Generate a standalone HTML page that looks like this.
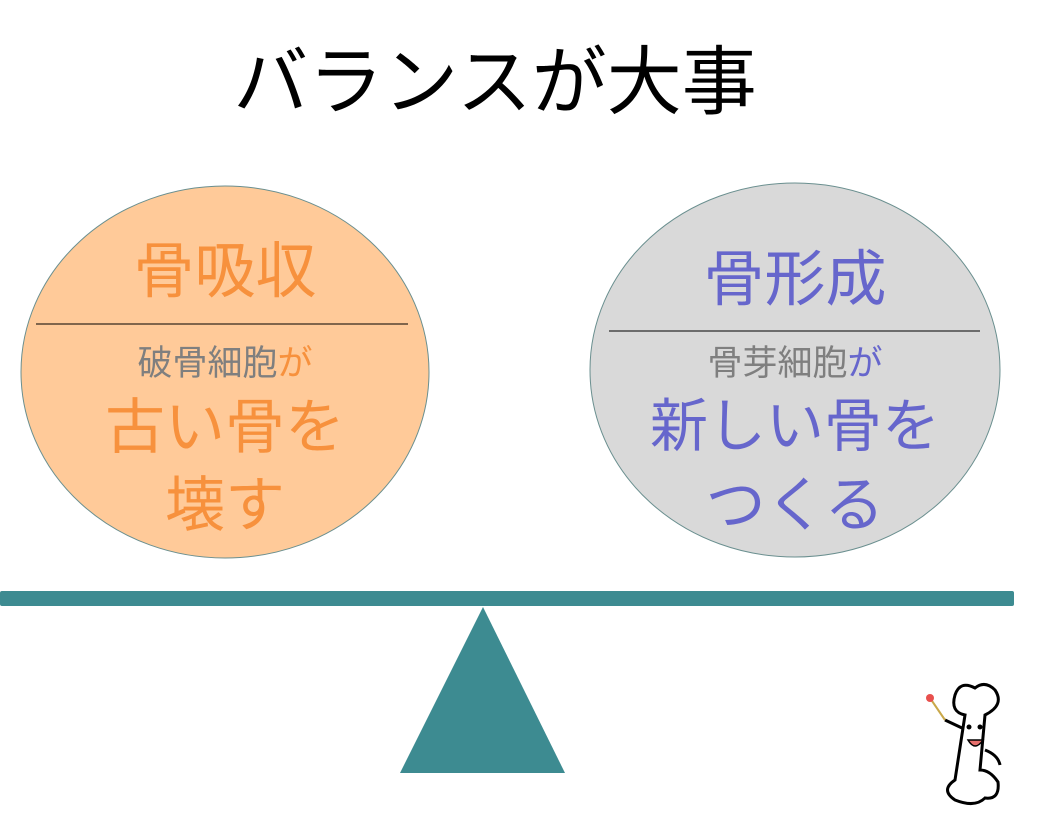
<!DOCTYPE html>
<html><head><meta charset="utf-8"><style>
body{margin:0;width:1057px;height:820px;background:#fff;overflow:hidden;position:relative;font-family:"Liberation Sans","Noto Sans CJK JP",sans-serif}
.t{position:absolute;white-space:nowrap;text-align:center;line-height:1}
</style></head><body>
<svg width="1057" height="820" style="position:absolute;left:0;top:0">
<ellipse cx="225" cy="372" rx="204" ry="186" fill="#FFCA99" stroke="#6a8f8f" stroke-width="1"/>
<ellipse cx="795" cy="370" rx="205" ry="187" fill="#D9D9D9" stroke="#6a8f8f" stroke-width="1"/>
<line x1="36" y1="324" x2="408" y2="324" stroke="#000" stroke-width="1"/>
<line x1="609" y1="331" x2="980" y2="331" stroke="#000" stroke-width="1"/>
<rect x="0" y="591" width="1014" height="15" rx="2" fill="#3D8B91"/>
<polygon points="483,607 400,773 565,773" fill="#3D8B91"/>
<g fill="#fff" stroke="#000" stroke-width="3">
<path d="M965 715 L955 780 Q940 790 955 800 Q975 808 985 798 Q1000 800 998 782 Q990 770 980 770 L985 715 Q1005 705 995 690 Q985 680 975 688 Q960 680 955 695 Q950 712 965 715Z"/>
<path d="M962 728 L945 720" />
<path d="M985 750 Q998 755 1000 765"/>
</g>
<line x1="930" y1="698" x2="945" y2="720" stroke="#c9a84a" stroke-width="2"/>
<circle cx="930" cy="698" r="4" fill="#e8504d"/>
<circle cx="969" cy="727" r="2.5"/><circle cx="980" cy="727" r="2.5"/>
<path d="M968 740 Q975 752 983 740Z" fill="#e8706d" stroke="#000" stroke-width="1.5"/>
</svg>
<div class="t" style="left:0;width:990px;top:45px;font-size:75px;color:#000">バランスが大事</div>
<div class="t" style="left:25px;width:400px;top:241px;font-size:61px;color:#F7913D">骨吸収</div>
<div class="t" style="left:25px;width:400px;top:346px;font-size:35px;color:#7f7f7f">破骨細胞<span style="color:#F7913D">が</span></div>
<div class="t" style="left:25px;width:400px;top:398px;font-size:60px;color:#F7913D">古い骨を</div>
<div class="t" style="left:25px;width:400px;top:476px;font-size:60px;color:#F7913D">壊す</div>
<div class="t" style="left:595px;width:400px;top:249px;font-size:61px;color:#6666CC">骨形成</div>
<div class="t" style="left:595px;width:400px;top:346px;font-size:35px;color:#7f7f7f">骨芽細胞<span style="color:#6666CC">が</span></div>
<div class="t" style="left:595px;width:400px;top:398px;font-size:58px;color:#6666CC">新しい骨を</div>
<div class="t" style="left:595px;width:400px;top:476px;font-size:60px;color:#6666CC">つくる</div>
</body></html>
